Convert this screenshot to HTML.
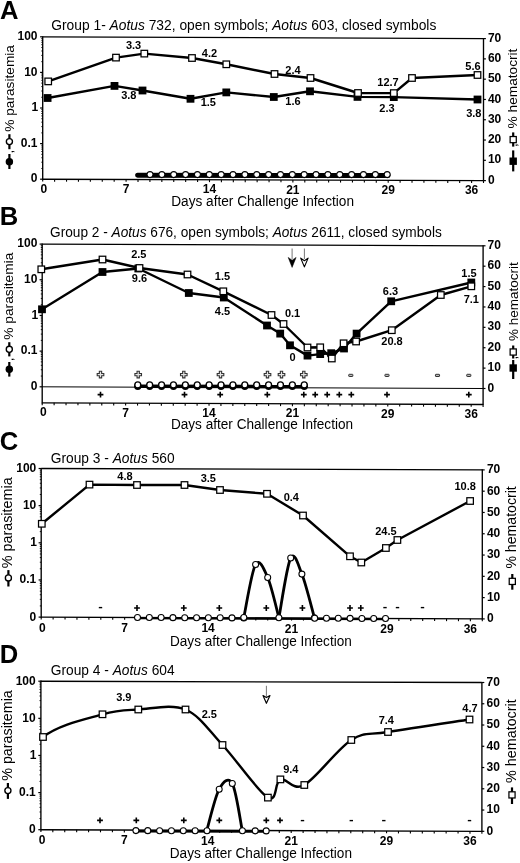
<!DOCTYPE html>
<html><head><meta charset="utf-8"><style>
html,body{margin:0;padding:0;background:#fff;}
body{width:520px;height:863px;overflow:hidden;}
svg{display:block;filter:blur(0.35px);font-family:"Liberation Sans", sans-serif;}
</style></head><body>
<svg width="520" height="863" viewBox="0 0 520 863">
<rect width="520" height="863" fill="#fff"/>
<text x="0" y="18.8" font-size="25.6" font-weight="700">A</text>
<text x="51.3" y="29.9" font-size="13.8" textLength="385" lengthAdjust="spacingAndGlyphs">Group 1- <tspan font-style="italic">Aotus</tspan> 732, open symbols; <tspan font-style="italic">Aotus</tspan> 603, closed symbols</text>
<line x1="42.7" y1="36.2" x2="42.7" y2="179.8" stroke="#000" stroke-width="1.35"/>
<line x1="42.7" y1="36.8" x2="483.5" y2="38.6" stroke="#000" stroke-width="1.35"/>
<line x1="483.5" y1="38" x2="483.5" y2="181.2" stroke="#000" stroke-width="1.35"/>
<line x1="42.7" y1="179.2" x2="483.5" y2="180.6" stroke="#000" stroke-width="1.35"/>
<line x1="42.7" y1="179.2" x2="42.7" y2="181.6" stroke="#000" stroke-width="1.1"/>
<line x1="54.61" y1="179.24" x2="54.61" y2="181.64" stroke="#000" stroke-width="1.1"/>
<line x1="66.53" y1="179.28" x2="66.53" y2="181.68" stroke="#000" stroke-width="1.1"/>
<line x1="78.44" y1="179.31" x2="78.44" y2="181.71" stroke="#000" stroke-width="1.1"/>
<line x1="90.35" y1="179.35" x2="90.35" y2="181.75" stroke="#000" stroke-width="1.1"/>
<line x1="102.27" y1="179.39" x2="102.27" y2="181.79" stroke="#000" stroke-width="1.1"/>
<line x1="114.18" y1="179.43" x2="114.18" y2="181.83" stroke="#000" stroke-width="1.1"/>
<line x1="126.09" y1="179.46" x2="126.09" y2="181.86" stroke="#000" stroke-width="1.1"/>
<line x1="138.01" y1="179.5" x2="138.01" y2="181.9" stroke="#000" stroke-width="1.1"/>
<line x1="149.92" y1="179.54" x2="149.92" y2="181.94" stroke="#000" stroke-width="1.1"/>
<line x1="161.84" y1="179.58" x2="161.84" y2="181.98" stroke="#000" stroke-width="1.1"/>
<line x1="173.75" y1="179.62" x2="173.75" y2="182.02" stroke="#000" stroke-width="1.1"/>
<line x1="185.66" y1="179.65" x2="185.66" y2="182.05" stroke="#000" stroke-width="1.1"/>
<line x1="197.58" y1="179.69" x2="197.58" y2="182.09" stroke="#000" stroke-width="1.1"/>
<line x1="209.49" y1="179.73" x2="209.49" y2="182.13" stroke="#000" stroke-width="1.1"/>
<line x1="221.4" y1="179.77" x2="221.4" y2="182.17" stroke="#000" stroke-width="1.1"/>
<line x1="233.32" y1="179.81" x2="233.32" y2="182.21" stroke="#000" stroke-width="1.1"/>
<line x1="245.23" y1="179.84" x2="245.23" y2="182.24" stroke="#000" stroke-width="1.1"/>
<line x1="257.14" y1="179.88" x2="257.14" y2="182.28" stroke="#000" stroke-width="1.1"/>
<line x1="269.06" y1="179.92" x2="269.06" y2="182.32" stroke="#000" stroke-width="1.1"/>
<line x1="280.97" y1="179.96" x2="280.97" y2="182.36" stroke="#000" stroke-width="1.1"/>
<line x1="292.88" y1="179.99" x2="292.88" y2="182.39" stroke="#000" stroke-width="1.1"/>
<line x1="304.8" y1="180.03" x2="304.8" y2="182.43" stroke="#000" stroke-width="1.1"/>
<line x1="316.71" y1="180.07" x2="316.71" y2="182.47" stroke="#000" stroke-width="1.1"/>
<line x1="328.62" y1="180.11" x2="328.62" y2="182.51" stroke="#000" stroke-width="1.1"/>
<line x1="340.54" y1="180.15" x2="340.54" y2="182.55" stroke="#000" stroke-width="1.1"/>
<line x1="352.45" y1="180.18" x2="352.45" y2="182.58" stroke="#000" stroke-width="1.1"/>
<line x1="364.36" y1="180.22" x2="364.36" y2="182.62" stroke="#000" stroke-width="1.1"/>
<line x1="376.28" y1="180.26" x2="376.28" y2="182.66" stroke="#000" stroke-width="1.1"/>
<line x1="388.19" y1="180.3" x2="388.19" y2="182.7" stroke="#000" stroke-width="1.1"/>
<line x1="400.11" y1="180.34" x2="400.11" y2="182.74" stroke="#000" stroke-width="1.1"/>
<line x1="412.02" y1="180.37" x2="412.02" y2="182.77" stroke="#000" stroke-width="1.1"/>
<line x1="423.93" y1="180.41" x2="423.93" y2="182.81" stroke="#000" stroke-width="1.1"/>
<line x1="435.85" y1="180.45" x2="435.85" y2="182.85" stroke="#000" stroke-width="1.1"/>
<line x1="447.76" y1="180.49" x2="447.76" y2="182.89" stroke="#000" stroke-width="1.1"/>
<line x1="459.67" y1="180.52" x2="459.67" y2="182.92" stroke="#000" stroke-width="1.1"/>
<line x1="471.59" y1="180.56" x2="471.59" y2="182.96" stroke="#000" stroke-width="1.1"/>
<line x1="483.5" y1="180.6" x2="483.5" y2="183" stroke="#000" stroke-width="1.1"/>
<line x1="40.1" y1="36.8" x2="42.7" y2="36.8" stroke="#000" stroke-width="1.2"/>
<line x1="41.3" y1="61.68" x2="42.7" y2="61.68" stroke="#000" stroke-width="0.9"/>
<line x1="41.3" y1="55.41" x2="42.7" y2="55.41" stroke="#000" stroke-width="0.9"/>
<line x1="41.3" y1="50.97" x2="42.7" y2="50.97" stroke="#000" stroke-width="0.9"/>
<line x1="41.3" y1="47.52" x2="42.7" y2="47.52" stroke="#000" stroke-width="0.9"/>
<line x1="41.3" y1="44.7" x2="42.7" y2="44.7" stroke="#000" stroke-width="0.9"/>
<line x1="41.3" y1="42.31" x2="42.7" y2="42.31" stroke="#000" stroke-width="0.9"/>
<line x1="41.3" y1="40.25" x2="42.7" y2="40.25" stroke="#000" stroke-width="0.9"/>
<line x1="41.3" y1="38.43" x2="42.7" y2="38.43" stroke="#000" stroke-width="0.9"/>
<line x1="40.1" y1="72.4" x2="42.7" y2="72.4" stroke="#000" stroke-width="1.2"/>
<line x1="41.3" y1="97.28" x2="42.7" y2="97.28" stroke="#000" stroke-width="0.9"/>
<line x1="41.3" y1="91.01" x2="42.7" y2="91.01" stroke="#000" stroke-width="0.9"/>
<line x1="41.3" y1="86.57" x2="42.7" y2="86.57" stroke="#000" stroke-width="0.9"/>
<line x1="41.3" y1="83.12" x2="42.7" y2="83.12" stroke="#000" stroke-width="0.9"/>
<line x1="41.3" y1="80.3" x2="42.7" y2="80.3" stroke="#000" stroke-width="0.9"/>
<line x1="41.3" y1="77.91" x2="42.7" y2="77.91" stroke="#000" stroke-width="0.9"/>
<line x1="41.3" y1="75.85" x2="42.7" y2="75.85" stroke="#000" stroke-width="0.9"/>
<line x1="41.3" y1="74.03" x2="42.7" y2="74.03" stroke="#000" stroke-width="0.9"/>
<line x1="40.1" y1="108" x2="42.7" y2="108" stroke="#000" stroke-width="1.2"/>
<line x1="41.3" y1="132.88" x2="42.7" y2="132.88" stroke="#000" stroke-width="0.9"/>
<line x1="41.3" y1="126.61" x2="42.7" y2="126.61" stroke="#000" stroke-width="0.9"/>
<line x1="41.3" y1="122.17" x2="42.7" y2="122.17" stroke="#000" stroke-width="0.9"/>
<line x1="41.3" y1="118.72" x2="42.7" y2="118.72" stroke="#000" stroke-width="0.9"/>
<line x1="41.3" y1="115.9" x2="42.7" y2="115.9" stroke="#000" stroke-width="0.9"/>
<line x1="41.3" y1="113.51" x2="42.7" y2="113.51" stroke="#000" stroke-width="0.9"/>
<line x1="41.3" y1="111.45" x2="42.7" y2="111.45" stroke="#000" stroke-width="0.9"/>
<line x1="41.3" y1="109.63" x2="42.7" y2="109.63" stroke="#000" stroke-width="0.9"/>
<line x1="40.1" y1="143.6" x2="42.7" y2="143.6" stroke="#000" stroke-width="1.2"/>
<line x1="41.3" y1="168.48" x2="42.7" y2="168.48" stroke="#000" stroke-width="0.9"/>
<line x1="41.3" y1="162.21" x2="42.7" y2="162.21" stroke="#000" stroke-width="0.9"/>
<line x1="41.3" y1="157.77" x2="42.7" y2="157.77" stroke="#000" stroke-width="0.9"/>
<line x1="41.3" y1="154.32" x2="42.7" y2="154.32" stroke="#000" stroke-width="0.9"/>
<line x1="41.3" y1="151.5" x2="42.7" y2="151.5" stroke="#000" stroke-width="0.9"/>
<line x1="41.3" y1="149.11" x2="42.7" y2="149.11" stroke="#000" stroke-width="0.9"/>
<line x1="41.3" y1="147.05" x2="42.7" y2="147.05" stroke="#000" stroke-width="0.9"/>
<line x1="41.3" y1="145.23" x2="42.7" y2="145.23" stroke="#000" stroke-width="0.9"/>
<line x1="40.1" y1="179.2" x2="42.7" y2="179.2" stroke="#000" stroke-width="1.2"/>
<line x1="483.5" y1="180.6" x2="485.9" y2="180.6" stroke="#000" stroke-width="1.2"/>
<line x1="483.5" y1="160.31" x2="485.9" y2="160.31" stroke="#000" stroke-width="1.2"/>
<line x1="483.5" y1="140.03" x2="485.9" y2="140.03" stroke="#000" stroke-width="1.2"/>
<line x1="483.5" y1="119.74" x2="485.9" y2="119.74" stroke="#000" stroke-width="1.2"/>
<line x1="483.5" y1="99.46" x2="485.9" y2="99.46" stroke="#000" stroke-width="1.2"/>
<line x1="483.5" y1="79.17" x2="485.9" y2="79.17" stroke="#000" stroke-width="1.2"/>
<line x1="483.5" y1="58.89" x2="485.9" y2="58.89" stroke="#000" stroke-width="1.2"/>
<line x1="483.5" y1="38.6" x2="485.9" y2="38.6" stroke="#000" stroke-width="1.2"/>
<text x="37.5" y="39.92" font-size="12" font-weight="700" text-anchor="end">100</text>
<text x="37.5" y="75.52" font-size="12" font-weight="700" text-anchor="end">10</text>
<text x="38.2" y="111.12" font-size="12" font-weight="700" text-anchor="end">1</text>
<text x="37.5" y="146.72" font-size="12" font-weight="700" text-anchor="end">0.1</text>
<text x="37.5" y="182.32" font-size="12" font-weight="700" text-anchor="end">0</text>
<text x="487.9" y="183.72" font-size="12" font-weight="700">0</text>
<text x="487.9" y="163.43" font-size="12" font-weight="700">10</text>
<text x="487.9" y="143.15" font-size="12" font-weight="700">20</text>
<text x="487.9" y="122.86" font-size="12" font-weight="700">30</text>
<text x="487.9" y="102.58" font-size="12" font-weight="700">40</text>
<text x="487.9" y="82.29" font-size="12" font-weight="700">50</text>
<text x="487.9" y="62.01" font-size="12" font-weight="700">60</text>
<text x="487.9" y="41.72" font-size="12" font-weight="700">70</text>
<text x="43.9" y="192.92" font-size="12" font-weight="700" text-anchor="middle">0</text>
<text x="126.09" y="193.18" font-size="12" font-weight="700" text-anchor="middle">7</text>
<text x="209.49" y="193.45" font-size="12" font-weight="700" text-anchor="middle">14</text>
<text x="292.88" y="193.71" font-size="12" font-weight="700" text-anchor="middle">21</text>
<text x="388.19" y="194.02" font-size="12" font-weight="700" text-anchor="middle">29</text>
<text x="471.59" y="194.28" font-size="12" font-weight="700" text-anchor="middle">36</text>
<text x="171.2" y="205.8" font-size="14" textLength="182.8" lengthAdjust="spacingAndGlyphs">Days after Challenge Infection</text>
<text x="170.9" y="429.3" font-size="14" textLength="182.2" lengthAdjust="spacingAndGlyphs">Days after Challenge Infection</text>
<text transform="translate(13.5 131.8) rotate(-90)" font-size="13.5" textLength="86.8" lengthAdjust="spacingAndGlyphs">% parasitemia</text>
<line x1="9.4" y1="134.2" x2="9.4" y2="149.2" stroke="#000" stroke-width="2.2"/>
<circle cx="9.4" cy="141.6" r="3.05" fill="#fff" stroke="#000" stroke-width="1.35"/>
<text transform="translate(13.4 153.4) rotate(-90)" font-size="13.5">,</text>
<line x1="9.4" y1="154" x2="9.4" y2="169" stroke="#000" stroke-width="2.2"/>
<circle cx="9.4" cy="161.8" r="3.72" fill="#000"/>
<text transform="translate(517.4 128.4) rotate(-90)" font-size="13.5" textLength="79.8" lengthAdjust="spacingAndGlyphs">% hematocrit</text>
<line x1="513.2" y1="132.4" x2="513.2" y2="146.6" stroke="#000" stroke-width="2.2"/>
<rect x="510.13" y="136.53" width="6.15" height="6.15" fill="#fff" stroke="#000" stroke-width="1.25"/>
<text transform="translate(517.2 147) rotate(-90)" font-size="13.5">,</text>
<line x1="513.2" y1="150.4" x2="513.2" y2="171.4" stroke="#000" stroke-width="2.2"/>
<rect x="509.5" y="157.5" width="7.4" height="7.4" fill="#000"/>
<polyline points="47.6,98 114.5,85.9 142.5,90.5 190.5,98.8 226.3,92.4 273.8,97 310,91.3 357.5,96.9 393.8,97.1 477.5,99.5" fill="none" stroke="#000" stroke-width="2.4" stroke-linejoin="round"/>
<polyline points="48.2,81.4 116,57.6 144.3,53.6 192,58 226.3,64.3 274.5,74 310.5,78 358,93 393.8,93.1 412,78 477.5,75" fill="none" stroke="#000" stroke-width="2.4" stroke-linejoin="round"/>
<rect x="43.7" y="94.1" width="7.8" height="7.8" fill="#000"/>
<rect x="110.6" y="82" width="7.8" height="7.8" fill="#000"/>
<rect x="138.6" y="86.6" width="7.8" height="7.8" fill="#000"/>
<rect x="186.6" y="94.9" width="7.8" height="7.8" fill="#000"/>
<rect x="222.4" y="88.5" width="7.8" height="7.8" fill="#000"/>
<rect x="269.9" y="93.1" width="7.8" height="7.8" fill="#000"/>
<rect x="306.1" y="87.4" width="7.8" height="7.8" fill="#000"/>
<rect x="353.6" y="93" width="7.8" height="7.8" fill="#000"/>
<rect x="389.9" y="93.2" width="7.8" height="7.8" fill="#000"/>
<rect x="473.6" y="95.6" width="7.8" height="7.8" fill="#000"/>
<rect x="44.93" y="78.12" width="6.55" height="6.55" fill="#fff" stroke="#000" stroke-width="1.25"/>
<rect x="112.72" y="54.33" width="6.55" height="6.55" fill="#fff" stroke="#000" stroke-width="1.25"/>
<rect x="141.03" y="50.33" width="6.55" height="6.55" fill="#fff" stroke="#000" stroke-width="1.25"/>
<rect x="188.72" y="54.73" width="6.55" height="6.55" fill="#fff" stroke="#000" stroke-width="1.25"/>
<rect x="223.03" y="61.02" width="6.55" height="6.55" fill="#fff" stroke="#000" stroke-width="1.25"/>
<rect x="271.23" y="70.72" width="6.55" height="6.55" fill="#fff" stroke="#000" stroke-width="1.25"/>
<rect x="307.23" y="74.72" width="6.55" height="6.55" fill="#fff" stroke="#000" stroke-width="1.25"/>
<rect x="354.73" y="89.72" width="6.55" height="6.55" fill="#fff" stroke="#000" stroke-width="1.25"/>
<rect x="390.53" y="89.82" width="6.55" height="6.55" fill="#fff" stroke="#000" stroke-width="1.25"/>
<rect x="408.73" y="74.72" width="6.55" height="6.55" fill="#fff" stroke="#000" stroke-width="1.25"/>
<rect x="474.23" y="71.72" width="6.55" height="6.55" fill="#fff" stroke="#000" stroke-width="1.25"/>
<text x="133.6" y="49.2" font-size="11" font-weight="700" text-anchor="middle">3.3</text>
<text x="209.5" y="57.3" font-size="11" font-weight="700" text-anchor="middle">4.2</text>
<text x="293" y="73.6" font-size="11" font-weight="700" text-anchor="middle">2.4</text>
<text x="388" y="86.4" font-size="11" font-weight="700" text-anchor="middle">12.7</text>
<text x="473" y="69.8" font-size="11" font-weight="700" text-anchor="middle">5.6</text>
<text x="128.8" y="99.4" font-size="11" font-weight="700" text-anchor="middle">3.8</text>
<text x="208.3" y="106.1" font-size="11" font-weight="700" text-anchor="middle">1.5</text>
<text x="293" y="105.4" font-size="11" font-weight="700" text-anchor="middle">1.6</text>
<text x="387" y="112" font-size="11" font-weight="700" text-anchor="middle">2.3</text>
<text x="473.8" y="117.4" font-size="11" font-weight="700" text-anchor="middle">3.8</text>
<line x1="137.6" y1="175.3" x2="388" y2="175.6" stroke="#000" stroke-width="5" stroke-linecap="round"/>
<circle cx="150" cy="174.6" r="3" fill="#fff" stroke="#000" stroke-width="1.05"/>
<circle cx="161.86" cy="174.6" r="3" fill="#fff" stroke="#000" stroke-width="1.05"/>
<circle cx="173.72" cy="174.6" r="3" fill="#fff" stroke="#000" stroke-width="1.05"/>
<circle cx="185.58" cy="174.6" r="3" fill="#fff" stroke="#000" stroke-width="1.05"/>
<circle cx="197.44" cy="174.6" r="3" fill="#fff" stroke="#000" stroke-width="1.05"/>
<circle cx="209.3" cy="174.6" r="3" fill="#fff" stroke="#000" stroke-width="1.05"/>
<circle cx="221.16" cy="174.6" r="3" fill="#fff" stroke="#000" stroke-width="1.05"/>
<circle cx="233.02" cy="174.6" r="3" fill="#fff" stroke="#000" stroke-width="1.05"/>
<circle cx="244.88" cy="174.6" r="3" fill="#fff" stroke="#000" stroke-width="1.05"/>
<circle cx="256.74" cy="174.6" r="3" fill="#fff" stroke="#000" stroke-width="1.05"/>
<circle cx="268.6" cy="174.6" r="3" fill="#fff" stroke="#000" stroke-width="1.05"/>
<circle cx="280.46" cy="174.6" r="3" fill="#fff" stroke="#000" stroke-width="1.05"/>
<circle cx="292.32" cy="174.6" r="3" fill="#fff" stroke="#000" stroke-width="1.05"/>
<circle cx="304.18" cy="174.6" r="3" fill="#fff" stroke="#000" stroke-width="1.05"/>
<circle cx="316.04" cy="174.6" r="3" fill="#fff" stroke="#000" stroke-width="1.05"/>
<circle cx="327.9" cy="174.6" r="3" fill="#fff" stroke="#000" stroke-width="1.05"/>
<circle cx="339.76" cy="174.6" r="3" fill="#fff" stroke="#000" stroke-width="1.05"/>
<circle cx="351.62" cy="174.6" r="3" fill="#fff" stroke="#000" stroke-width="1.05"/>
<circle cx="363.48" cy="174.6" r="3" fill="#fff" stroke="#000" stroke-width="1.05"/>
<circle cx="375.34" cy="174.6" r="3" fill="#fff" stroke="#000" stroke-width="1.05"/>
<circle cx="387.2" cy="174.6" r="3" fill="#fff" stroke="#000" stroke-width="1.05"/>
<text x="-0.2" y="225.3" font-size="25.6" font-weight="700">B</text>
<text x="50" y="236.8" font-size="13.8" textLength="391.8" lengthAdjust="spacingAndGlyphs">Group 2 - <tspan font-style="italic">Aotus</tspan> 676, open symbols; <tspan font-style="italic">Aotus</tspan> 2611, closed symbols</text>
<line x1="42.2" y1="243.5" x2="42.2" y2="403.4" stroke="#000" stroke-width="1.35"/>
<line x1="42.2" y1="244.1" x2="483.1" y2="245.8" stroke="#000" stroke-width="1.35"/>
<line x1="483.1" y1="245.2" x2="483.1" y2="405.1" stroke="#000" stroke-width="1.35"/>
<line x1="42.2" y1="402.8" x2="483.1" y2="404.5" stroke="#000" stroke-width="1.35"/>
<line x1="42.2" y1="386.8" x2="483.1" y2="388.5" stroke="#000" stroke-width="1"/>
<line x1="42.2" y1="402.8" x2="42.2" y2="405.2" stroke="#000" stroke-width="1.1"/>
<line x1="54.12" y1="402.85" x2="54.12" y2="405.25" stroke="#000" stroke-width="1.1"/>
<line x1="66.03" y1="402.89" x2="66.03" y2="405.29" stroke="#000" stroke-width="1.1"/>
<line x1="77.95" y1="402.94" x2="77.95" y2="405.34" stroke="#000" stroke-width="1.1"/>
<line x1="89.86" y1="402.98" x2="89.86" y2="405.38" stroke="#000" stroke-width="1.1"/>
<line x1="101.78" y1="403.03" x2="101.78" y2="405.43" stroke="#000" stroke-width="1.1"/>
<line x1="113.7" y1="403.08" x2="113.7" y2="405.48" stroke="#000" stroke-width="1.1"/>
<line x1="125.61" y1="403.12" x2="125.61" y2="405.52" stroke="#000" stroke-width="1.1"/>
<line x1="137.53" y1="403.17" x2="137.53" y2="405.57" stroke="#000" stroke-width="1.1"/>
<line x1="149.45" y1="403.21" x2="149.45" y2="405.61" stroke="#000" stroke-width="1.1"/>
<line x1="161.36" y1="403.26" x2="161.36" y2="405.66" stroke="#000" stroke-width="1.1"/>
<line x1="173.28" y1="403.31" x2="173.28" y2="405.71" stroke="#000" stroke-width="1.1"/>
<line x1="185.19" y1="403.35" x2="185.19" y2="405.75" stroke="#000" stroke-width="1.1"/>
<line x1="197.11" y1="403.4" x2="197.11" y2="405.8" stroke="#000" stroke-width="1.1"/>
<line x1="209.03" y1="403.44" x2="209.03" y2="405.84" stroke="#000" stroke-width="1.1"/>
<line x1="220.94" y1="403.49" x2="220.94" y2="405.89" stroke="#000" stroke-width="1.1"/>
<line x1="232.86" y1="403.54" x2="232.86" y2="405.94" stroke="#000" stroke-width="1.1"/>
<line x1="244.78" y1="403.58" x2="244.78" y2="405.98" stroke="#000" stroke-width="1.1"/>
<line x1="256.69" y1="403.63" x2="256.69" y2="406.03" stroke="#000" stroke-width="1.1"/>
<line x1="268.61" y1="403.67" x2="268.61" y2="406.07" stroke="#000" stroke-width="1.1"/>
<line x1="280.52" y1="403.72" x2="280.52" y2="406.12" stroke="#000" stroke-width="1.1"/>
<line x1="292.44" y1="403.76" x2="292.44" y2="406.16" stroke="#000" stroke-width="1.1"/>
<line x1="304.36" y1="403.81" x2="304.36" y2="406.21" stroke="#000" stroke-width="1.1"/>
<line x1="316.27" y1="403.86" x2="316.27" y2="406.26" stroke="#000" stroke-width="1.1"/>
<line x1="328.19" y1="403.9" x2="328.19" y2="406.3" stroke="#000" stroke-width="1.1"/>
<line x1="340.11" y1="403.95" x2="340.11" y2="406.35" stroke="#000" stroke-width="1.1"/>
<line x1="352.02" y1="403.99" x2="352.02" y2="406.39" stroke="#000" stroke-width="1.1"/>
<line x1="363.94" y1="404.04" x2="363.94" y2="406.44" stroke="#000" stroke-width="1.1"/>
<line x1="375.85" y1="404.09" x2="375.85" y2="406.49" stroke="#000" stroke-width="1.1"/>
<line x1="387.77" y1="404.13" x2="387.77" y2="406.53" stroke="#000" stroke-width="1.1"/>
<line x1="399.69" y1="404.18" x2="399.69" y2="406.58" stroke="#000" stroke-width="1.1"/>
<line x1="411.6" y1="404.22" x2="411.6" y2="406.62" stroke="#000" stroke-width="1.1"/>
<line x1="423.52" y1="404.27" x2="423.52" y2="406.67" stroke="#000" stroke-width="1.1"/>
<line x1="435.44" y1="404.32" x2="435.44" y2="406.72" stroke="#000" stroke-width="1.1"/>
<line x1="447.35" y1="404.36" x2="447.35" y2="406.76" stroke="#000" stroke-width="1.1"/>
<line x1="459.27" y1="404.41" x2="459.27" y2="406.81" stroke="#000" stroke-width="1.1"/>
<line x1="471.18" y1="404.45" x2="471.18" y2="406.85" stroke="#000" stroke-width="1.1"/>
<line x1="483.1" y1="404.5" x2="483.1" y2="406.9" stroke="#000" stroke-width="1.1"/>
<line x1="39.6" y1="244.1" x2="42.2" y2="244.1" stroke="#000" stroke-width="1.2"/>
<line x1="40.8" y1="269.04" x2="42.2" y2="269.04" stroke="#000" stroke-width="0.9"/>
<line x1="40.8" y1="262.75" x2="42.2" y2="262.75" stroke="#000" stroke-width="0.9"/>
<line x1="40.8" y1="258.3" x2="42.2" y2="258.3" stroke="#000" stroke-width="0.9"/>
<line x1="40.8" y1="254.84" x2="42.2" y2="254.84" stroke="#000" stroke-width="0.9"/>
<line x1="40.8" y1="252.01" x2="42.2" y2="252.01" stroke="#000" stroke-width="0.9"/>
<line x1="40.8" y1="249.63" x2="42.2" y2="249.63" stroke="#000" stroke-width="0.9"/>
<line x1="40.8" y1="247.56" x2="42.2" y2="247.56" stroke="#000" stroke-width="0.9"/>
<line x1="40.8" y1="245.73" x2="42.2" y2="245.73" stroke="#000" stroke-width="0.9"/>
<line x1="39.6" y1="279.77" x2="42.2" y2="279.77" stroke="#000" stroke-width="1.2"/>
<line x1="40.8" y1="304.71" x2="42.2" y2="304.71" stroke="#000" stroke-width="0.9"/>
<line x1="40.8" y1="298.43" x2="42.2" y2="298.43" stroke="#000" stroke-width="0.9"/>
<line x1="40.8" y1="293.97" x2="42.2" y2="293.97" stroke="#000" stroke-width="0.9"/>
<line x1="40.8" y1="290.51" x2="42.2" y2="290.51" stroke="#000" stroke-width="0.9"/>
<line x1="40.8" y1="287.69" x2="42.2" y2="287.69" stroke="#000" stroke-width="0.9"/>
<line x1="40.8" y1="285.3" x2="42.2" y2="285.3" stroke="#000" stroke-width="0.9"/>
<line x1="40.8" y1="283.23" x2="42.2" y2="283.23" stroke="#000" stroke-width="0.9"/>
<line x1="40.8" y1="281.41" x2="42.2" y2="281.41" stroke="#000" stroke-width="0.9"/>
<line x1="39.6" y1="315.45" x2="42.2" y2="315.45" stroke="#000" stroke-width="1.2"/>
<line x1="40.8" y1="340.39" x2="42.2" y2="340.39" stroke="#000" stroke-width="0.9"/>
<line x1="40.8" y1="334.1" x2="42.2" y2="334.1" stroke="#000" stroke-width="0.9"/>
<line x1="40.8" y1="329.65" x2="42.2" y2="329.65" stroke="#000" stroke-width="0.9"/>
<line x1="40.8" y1="326.19" x2="42.2" y2="326.19" stroke="#000" stroke-width="0.9"/>
<line x1="40.8" y1="323.36" x2="42.2" y2="323.36" stroke="#000" stroke-width="0.9"/>
<line x1="40.8" y1="320.98" x2="42.2" y2="320.98" stroke="#000" stroke-width="0.9"/>
<line x1="40.8" y1="318.91" x2="42.2" y2="318.91" stroke="#000" stroke-width="0.9"/>
<line x1="40.8" y1="317.08" x2="42.2" y2="317.08" stroke="#000" stroke-width="0.9"/>
<line x1="39.6" y1="351.12" x2="42.2" y2="351.12" stroke="#000" stroke-width="1.2"/>
<line x1="40.8" y1="376.06" x2="42.2" y2="376.06" stroke="#000" stroke-width="0.9"/>
<line x1="40.8" y1="369.78" x2="42.2" y2="369.78" stroke="#000" stroke-width="0.9"/>
<line x1="40.8" y1="365.32" x2="42.2" y2="365.32" stroke="#000" stroke-width="0.9"/>
<line x1="40.8" y1="361.86" x2="42.2" y2="361.86" stroke="#000" stroke-width="0.9"/>
<line x1="40.8" y1="359.04" x2="42.2" y2="359.04" stroke="#000" stroke-width="0.9"/>
<line x1="40.8" y1="356.65" x2="42.2" y2="356.65" stroke="#000" stroke-width="0.9"/>
<line x1="40.8" y1="354.58" x2="42.2" y2="354.58" stroke="#000" stroke-width="0.9"/>
<line x1="40.8" y1="352.76" x2="42.2" y2="352.76" stroke="#000" stroke-width="0.9"/>
<line x1="39.6" y1="386.8" x2="42.2" y2="386.8" stroke="#000" stroke-width="1.2"/>
<line x1="483.1" y1="388.5" x2="485.5" y2="388.5" stroke="#000" stroke-width="1.2"/>
<line x1="483.1" y1="368.11" x2="485.5" y2="368.11" stroke="#000" stroke-width="1.2"/>
<line x1="483.1" y1="347.73" x2="485.5" y2="347.73" stroke="#000" stroke-width="1.2"/>
<line x1="483.1" y1="327.34" x2="485.5" y2="327.34" stroke="#000" stroke-width="1.2"/>
<line x1="483.1" y1="306.96" x2="485.5" y2="306.96" stroke="#000" stroke-width="1.2"/>
<line x1="483.1" y1="286.57" x2="485.5" y2="286.57" stroke="#000" stroke-width="1.2"/>
<line x1="483.1" y1="266.19" x2="485.5" y2="266.19" stroke="#000" stroke-width="1.2"/>
<line x1="483.1" y1="245.8" x2="485.5" y2="245.8" stroke="#000" stroke-width="1.2"/>
<text x="37.4" y="247.22" font-size="12" font-weight="700" text-anchor="end">100</text>
<text x="37.4" y="282.89" font-size="12" font-weight="700" text-anchor="end">10</text>
<text x="38.1" y="318.57" font-size="12" font-weight="700" text-anchor="end">1</text>
<text x="37.4" y="354.25" font-size="12" font-weight="700" text-anchor="end">0.1</text>
<text x="37.4" y="389.92" font-size="12" font-weight="700" text-anchor="end">0</text>
<text x="487.6" y="391.62" font-size="12" font-weight="700">0</text>
<text x="487.6" y="371.23" font-size="12" font-weight="700">10</text>
<text x="487.6" y="350.85" font-size="12" font-weight="700">20</text>
<text x="487.6" y="330.46" font-size="12" font-weight="700">30</text>
<text x="487.6" y="310.08" font-size="12" font-weight="700">40</text>
<text x="487.6" y="289.69" font-size="12" font-weight="700">50</text>
<text x="487.6" y="269.31" font-size="12" font-weight="700">60</text>
<text x="487.6" y="248.92" font-size="12" font-weight="700">70</text>
<text x="43.4" y="416.32" font-size="12" font-weight="700" text-anchor="middle">0</text>
<text x="125.61" y="416.64" font-size="12" font-weight="700" text-anchor="middle">7</text>
<text x="209.03" y="416.96" font-size="12" font-weight="700" text-anchor="middle">14</text>
<text x="292.44" y="417.28" font-size="12" font-weight="700" text-anchor="middle">21</text>
<text x="387.77" y="417.65" font-size="12" font-weight="700" text-anchor="middle">29</text>
<text x="471.18" y="417.97" font-size="12" font-weight="700" text-anchor="middle">36</text>
<text transform="translate(13.2 339.7) rotate(-90)" font-size="13.5" textLength="87" lengthAdjust="spacingAndGlyphs">% parasitemia</text>
<line x1="9.3" y1="342.2" x2="9.3" y2="356.4" stroke="#000" stroke-width="2.2"/>
<circle cx="9.3" cy="349.3" r="3.05" fill="#fff" stroke="#000" stroke-width="1.35"/>
<text transform="translate(13.2 361.2) rotate(-90)" font-size="13.5">,</text>
<line x1="9.3" y1="362" x2="9.3" y2="376.6" stroke="#000" stroke-width="2.2"/>
<circle cx="9.3" cy="369.3" r="3.72" fill="#000"/>
<text transform="translate(518 341) rotate(-90)" font-size="13.5" textLength="78.8" lengthAdjust="spacingAndGlyphs">% hematocrit</text>
<line x1="513.2" y1="345.5" x2="513.2" y2="358.5" stroke="#000" stroke-width="2.2"/>
<rect x="510.13" y="348.93" width="6.15" height="6.15" fill="#fff" stroke="#000" stroke-width="1.25"/>
<text transform="translate(516.8 359.6) rotate(-90)" font-size="13.5">,</text>
<line x1="513.2" y1="360" x2="513.2" y2="379" stroke="#000" stroke-width="2.2"/>
<rect x="509.5" y="364.3" width="7.4" height="7.4" fill="#000"/>
<polyline points="42,309.3 102.5,272 138.3,268.5 188.8,293 223.8,297.5 267,325.5 280.2,333.6 290,345.3 307.5,355.6 320.2,354.1 331.2,353.2 344,348.5 356.6,333.6 391.2,301.3 471.3,282.5" fill="none" stroke="#000" stroke-width="2.4" stroke-linejoin="round"/>
<polyline points="41.3,269.3 102.5,259.5 139.5,268 187.5,274.5 223.3,291.3 271.5,315 283.5,324 307.5,347.5 320.2,347.3 331.8,358.5 343.6,343.3 356.1,341.5 391.8,330.2 440.8,295 471.3,286.3" fill="none" stroke="#000" stroke-width="2.4" stroke-linejoin="round"/>
<rect x="38.1" y="305.4" width="7.8" height="7.8" fill="#000"/>
<rect x="98.6" y="268.1" width="7.8" height="7.8" fill="#000"/>
<rect x="134.4" y="264.6" width="7.8" height="7.8" fill="#000"/>
<rect x="184.9" y="289.1" width="7.8" height="7.8" fill="#000"/>
<rect x="219.9" y="293.6" width="7.8" height="7.8" fill="#000"/>
<rect x="263.1" y="321.6" width="7.8" height="7.8" fill="#000"/>
<rect x="276.3" y="329.7" width="7.8" height="7.8" fill="#000"/>
<rect x="286.1" y="341.4" width="7.8" height="7.8" fill="#000"/>
<rect x="303.6" y="351.7" width="7.8" height="7.8" fill="#000"/>
<rect x="316.3" y="350.2" width="7.8" height="7.8" fill="#000"/>
<rect x="327.3" y="349.3" width="7.8" height="7.8" fill="#000"/>
<rect x="340.1" y="344.6" width="7.8" height="7.8" fill="#000"/>
<rect x="352.7" y="329.7" width="7.8" height="7.8" fill="#000"/>
<rect x="387.3" y="297.4" width="7.8" height="7.8" fill="#000"/>
<rect x="467.4" y="278.6" width="7.8" height="7.8" fill="#000"/>
<rect x="38.02" y="266.03" width="6.55" height="6.55" fill="#fff" stroke="#000" stroke-width="1.25"/>
<rect x="99.22" y="256.23" width="6.55" height="6.55" fill="#fff" stroke="#000" stroke-width="1.25"/>
<rect x="136.22" y="264.73" width="6.55" height="6.55" fill="#fff" stroke="#000" stroke-width="1.25"/>
<rect x="184.22" y="271.23" width="6.55" height="6.55" fill="#fff" stroke="#000" stroke-width="1.25"/>
<rect x="220.03" y="288.03" width="6.55" height="6.55" fill="#fff" stroke="#000" stroke-width="1.25"/>
<rect x="268.23" y="311.73" width="6.55" height="6.55" fill="#fff" stroke="#000" stroke-width="1.25"/>
<rect x="280.23" y="320.73" width="6.55" height="6.55" fill="#fff" stroke="#000" stroke-width="1.25"/>
<rect x="304.23" y="344.23" width="6.55" height="6.55" fill="#fff" stroke="#000" stroke-width="1.25"/>
<rect x="316.93" y="344.03" width="6.55" height="6.55" fill="#fff" stroke="#000" stroke-width="1.25"/>
<rect x="328.53" y="355.23" width="6.55" height="6.55" fill="#fff" stroke="#000" stroke-width="1.25"/>
<rect x="340.33" y="340.03" width="6.55" height="6.55" fill="#fff" stroke="#000" stroke-width="1.25"/>
<rect x="352.83" y="338.23" width="6.55" height="6.55" fill="#fff" stroke="#000" stroke-width="1.25"/>
<rect x="388.53" y="326.93" width="6.55" height="6.55" fill="#fff" stroke="#000" stroke-width="1.25"/>
<rect x="437.53" y="291.73" width="6.55" height="6.55" fill="#fff" stroke="#000" stroke-width="1.25"/>
<rect x="468.03" y="283.03" width="6.55" height="6.55" fill="#fff" stroke="#000" stroke-width="1.25"/>
<text x="138.8" y="257.8" font-size="11" font-weight="700" text-anchor="middle">2.5</text>
<text x="139.5" y="282.3" font-size="11" font-weight="700" text-anchor="middle">9.6</text>
<text x="222.5" y="280.3" font-size="11" font-weight="700" text-anchor="middle">1.5</text>
<text x="222.5" y="315.3" font-size="11" font-weight="700" text-anchor="middle">4.5</text>
<text x="292.6" y="317" font-size="11" font-weight="700" text-anchor="middle">0.1</text>
<text x="292.5" y="360.9" font-size="11" font-weight="700" text-anchor="middle">0</text>
<text x="390.5" y="294.5" font-size="11" font-weight="700" text-anchor="middle">6.3</text>
<text x="392" y="345.3" font-size="11" font-weight="700" text-anchor="middle">20.8</text>
<text x="469" y="276.6" font-size="11" font-weight="700" text-anchor="middle">1.5</text>
<text x="471.3" y="302.5" font-size="11" font-weight="700" text-anchor="middle">7.1</text>
<line x1="292.1" y1="248.5" x2="292.1" y2="259" stroke="#666" stroke-width="0.9"/>
<path d="M288.2,257.4 L292.1,260.2 L296.1,257.4 L292.1,267.4 Z" fill="#000" stroke="#000" stroke-width="0.5" stroke-linejoin="round"/>
<line x1="304.4" y1="248.5" x2="304.4" y2="259" stroke="#666" stroke-width="0.9"/>
<path d="M300.7,258.1 L304.4,260.7 L308.1,258.1 L304.4,266.9 Z" fill="#fff" stroke="#000" stroke-width="1.15" stroke-linejoin="round"/>
<line x1="137.8" y1="386.3" x2="304.3" y2="386.6" stroke="#000" stroke-width="3.6"/>
<circle cx="137.8" cy="386.3" r="3.7" fill="#000"/>
<circle cx="149.69" cy="386.3" r="3.7" fill="#000"/>
<circle cx="161.58" cy="386.3" r="3.7" fill="#000"/>
<circle cx="173.47" cy="386.3" r="3.7" fill="#000"/>
<circle cx="185.36" cy="386.3" r="3.7" fill="#000"/>
<circle cx="197.25" cy="386.3" r="3.7" fill="#000"/>
<circle cx="209.14" cy="386.3" r="3.7" fill="#000"/>
<circle cx="221.03" cy="386.3" r="3.7" fill="#000"/>
<circle cx="232.92" cy="386.3" r="3.7" fill="#000"/>
<circle cx="244.81" cy="386.3" r="3.7" fill="#000"/>
<circle cx="256.7" cy="386.3" r="3.7" fill="#000"/>
<circle cx="268.59" cy="386.3" r="3.7" fill="#000"/>
<circle cx="280.48" cy="386.3" r="3.7" fill="#000"/>
<circle cx="292.37" cy="386.3" r="3.7" fill="#000"/>
<circle cx="304.26" cy="386.3" r="3.7" fill="#000"/>
<circle cx="137.8" cy="384.9" r="2.95" fill="#fff" stroke="#000" stroke-width="1.3"/>
<circle cx="149.69" cy="384.9" r="2.95" fill="#fff" stroke="#000" stroke-width="1.3"/>
<circle cx="161.58" cy="384.9" r="2.95" fill="#fff" stroke="#000" stroke-width="1.3"/>
<circle cx="173.47" cy="384.9" r="2.95" fill="#fff" stroke="#000" stroke-width="1.3"/>
<circle cx="185.36" cy="384.9" r="2.95" fill="#fff" stroke="#000" stroke-width="1.3"/>
<circle cx="197.25" cy="384.9" r="2.95" fill="#fff" stroke="#000" stroke-width="1.3"/>
<circle cx="209.14" cy="384.9" r="2.95" fill="#fff" stroke="#000" stroke-width="1.3"/>
<circle cx="221.03" cy="384.9" r="2.95" fill="#fff" stroke="#000" stroke-width="1.3"/>
<circle cx="232.92" cy="384.9" r="2.95" fill="#fff" stroke="#000" stroke-width="1.3"/>
<circle cx="244.81" cy="384.9" r="2.95" fill="#fff" stroke="#000" stroke-width="1.3"/>
<circle cx="256.7" cy="384.9" r="2.95" fill="#fff" stroke="#000" stroke-width="1.3"/>
<circle cx="268.59" cy="384.9" r="2.95" fill="#fff" stroke="#000" stroke-width="1.3"/>
<circle cx="280.48" cy="384.9" r="2.95" fill="#fff" stroke="#000" stroke-width="1.3"/>
<circle cx="292.37" cy="384.9" r="2.95" fill="#fff" stroke="#000" stroke-width="1.3"/>
<circle cx="304.26" cy="384.9" r="2.95" fill="#fff" stroke="#000" stroke-width="1.3"/>
<path d="M99.35,371.3 L101.65,371.3 L101.65,373.45 L103.8,373.45 L103.8,375.75 L101.65,375.75 L101.65,377.9 L99.35,377.9 L99.35,375.75 L97.2,375.75 L97.2,373.45 L99.35,373.45Z" fill="#e4e4e4" stroke="#333" stroke-width="1.1"/>
<path d="M137.05,371.3 L139.35,371.3 L139.35,373.45 L141.5,373.45 L141.5,375.75 L139.35,375.75 L139.35,377.9 L137.05,377.9 L137.05,375.75 L134.9,375.75 L134.9,373.45 L137.05,373.45Z" fill="#e4e4e4" stroke="#333" stroke-width="1.1"/>
<path d="M182.65,371.3 L184.95,371.3 L184.95,373.45 L187.1,373.45 L187.1,375.75 L184.95,375.75 L184.95,377.9 L182.65,377.9 L182.65,375.75 L180.5,375.75 L180.5,373.45 L182.65,373.45Z" fill="#e4e4e4" stroke="#333" stroke-width="1.1"/>
<path d="M219.35,371.3 L221.65,371.3 L221.65,373.45 L223.8,373.45 L223.8,375.75 L221.65,375.75 L221.65,377.9 L219.35,377.9 L219.35,375.75 L217.2,375.75 L217.2,373.45 L219.35,373.45Z" fill="#e4e4e4" stroke="#333" stroke-width="1.1"/>
<path d="M266.35,371.3 L268.65,371.3 L268.65,373.45 L270.8,373.45 L270.8,375.75 L268.65,375.75 L268.65,377.9 L266.35,377.9 L266.35,375.75 L264.2,375.75 L264.2,373.45 L266.35,373.45Z" fill="#e4e4e4" stroke="#333" stroke-width="1.1"/>
<path d="M280.35,371.3 L282.65,371.3 L282.65,373.45 L284.8,373.45 L284.8,375.75 L282.65,375.75 L282.65,377.9 L280.35,377.9 L280.35,375.75 L278.2,375.75 L278.2,373.45 L280.35,373.45Z" fill="#e4e4e4" stroke="#333" stroke-width="1.1"/>
<path d="M302.65,371.3 L304.95,371.3 L304.95,373.45 L307.1,373.45 L307.1,375.75 L304.95,375.75 L304.95,377.9 L302.65,377.9 L302.65,375.75 L300.5,375.75 L300.5,373.45 L302.65,373.45Z" fill="#e4e4e4" stroke="#333" stroke-width="1.1"/>
<rect x="348.75" y="374.3" width="4.1" height="2.2" rx="0.5" fill="#bbb" stroke="#333" stroke-width="1"/>
<rect x="384.95" y="374.3" width="4.1" height="2.2" rx="0.5" fill="#bbb" stroke="#333" stroke-width="1"/>
<rect x="435.45" y="374.3" width="4.1" height="2.2" rx="0.5" fill="#bbb" stroke="#333" stroke-width="1"/>
<rect x="466.75" y="374.3" width="4.1" height="2.2" rx="0.5" fill="#bbb" stroke="#333" stroke-width="1"/>
<path d="M97.6,394.6H103.4M100.5,391.7V397.5" stroke="#000" stroke-width="1.6" fill="none"/>
<path d="M181.6,394.6H187.4M184.5,391.7V397.5" stroke="#000" stroke-width="1.6" fill="none"/>
<path d="M217.3,394.6H223.1M220.2,391.7V397.5" stroke="#000" stroke-width="1.6" fill="none"/>
<path d="M264.4,394.6H270.2M267.3,391.7V397.5" stroke="#000" stroke-width="1.6" fill="none"/>
<path d="M300.9,394.6H306.7M303.8,391.7V397.5" stroke="#000" stroke-width="1.6" fill="none"/>
<path d="M312.3,394.6H318.1M315.2,391.7V397.5" stroke="#000" stroke-width="1.6" fill="none"/>
<path d="M324.3,394.6H330.1M327.2,391.7V397.5" stroke="#000" stroke-width="1.6" fill="none"/>
<path d="M336.4,394.6H342.2M339.3,391.7V397.5" stroke="#000" stroke-width="1.6" fill="none"/>
<path d="M348.4,394.6H354.2M351.3,391.7V397.5" stroke="#000" stroke-width="1.6" fill="none"/>
<path d="M384.1,394.6H389.9M387,391.7V397.5" stroke="#000" stroke-width="1.6" fill="none"/>
<path d="M465.9,394.6H471.7M468.8,391.7V397.5" stroke="#000" stroke-width="1.6" fill="none"/>
<text x="-0.2" y="450.3" font-size="25.6" font-weight="700">C</text>
<text x="50.8" y="463.0" font-size="14.3" textLength="123.8" lengthAdjust="spacingAndGlyphs">Group 3 - <tspan font-style="italic">Aotus</tspan> 560</text>
<line x1="41.2" y1="467.9" x2="41.2" y2="617.7" stroke="#000" stroke-width="1.35"/>
<line x1="41.2" y1="468.5" x2="482.3" y2="469.9" stroke="#000" stroke-width="1.35"/>
<line x1="482.3" y1="469.3" x2="482.3" y2="619.5" stroke="#000" stroke-width="1.35"/>
<line x1="41.2" y1="617.1" x2="482.3" y2="618.9" stroke="#000" stroke-width="1.35"/>
<line x1="41.2" y1="617.1" x2="41.2" y2="619.5" stroke="#000" stroke-width="1.1"/>
<line x1="53.12" y1="617.15" x2="53.12" y2="619.55" stroke="#000" stroke-width="1.1"/>
<line x1="65.04" y1="617.2" x2="65.04" y2="619.6" stroke="#000" stroke-width="1.1"/>
<line x1="76.96" y1="617.25" x2="76.96" y2="619.65" stroke="#000" stroke-width="1.1"/>
<line x1="88.89" y1="617.29" x2="88.89" y2="619.69" stroke="#000" stroke-width="1.1"/>
<line x1="100.81" y1="617.34" x2="100.81" y2="619.74" stroke="#000" stroke-width="1.1"/>
<line x1="112.73" y1="617.39" x2="112.73" y2="619.79" stroke="#000" stroke-width="1.1"/>
<line x1="124.65" y1="617.44" x2="124.65" y2="619.84" stroke="#000" stroke-width="1.1"/>
<line x1="136.57" y1="617.49" x2="136.57" y2="619.89" stroke="#000" stroke-width="1.1"/>
<line x1="148.49" y1="617.54" x2="148.49" y2="619.94" stroke="#000" stroke-width="1.1"/>
<line x1="160.42" y1="617.59" x2="160.42" y2="619.99" stroke="#000" stroke-width="1.1"/>
<line x1="172.34" y1="617.64" x2="172.34" y2="620.04" stroke="#000" stroke-width="1.1"/>
<line x1="184.26" y1="617.68" x2="184.26" y2="620.08" stroke="#000" stroke-width="1.1"/>
<line x1="196.18" y1="617.73" x2="196.18" y2="620.13" stroke="#000" stroke-width="1.1"/>
<line x1="208.1" y1="617.78" x2="208.1" y2="620.18" stroke="#000" stroke-width="1.1"/>
<line x1="220.02" y1="617.83" x2="220.02" y2="620.23" stroke="#000" stroke-width="1.1"/>
<line x1="231.95" y1="617.88" x2="231.95" y2="620.28" stroke="#000" stroke-width="1.1"/>
<line x1="243.87" y1="617.93" x2="243.87" y2="620.33" stroke="#000" stroke-width="1.1"/>
<line x1="255.79" y1="617.98" x2="255.79" y2="620.38" stroke="#000" stroke-width="1.1"/>
<line x1="267.71" y1="618.02" x2="267.71" y2="620.42" stroke="#000" stroke-width="1.1"/>
<line x1="279.63" y1="618.07" x2="279.63" y2="620.47" stroke="#000" stroke-width="1.1"/>
<line x1="291.55" y1="618.12" x2="291.55" y2="620.52" stroke="#000" stroke-width="1.1"/>
<line x1="303.48" y1="618.17" x2="303.48" y2="620.57" stroke="#000" stroke-width="1.1"/>
<line x1="315.4" y1="618.22" x2="315.4" y2="620.62" stroke="#000" stroke-width="1.1"/>
<line x1="327.32" y1="618.27" x2="327.32" y2="620.67" stroke="#000" stroke-width="1.1"/>
<line x1="339.24" y1="618.32" x2="339.24" y2="620.72" stroke="#000" stroke-width="1.1"/>
<line x1="351.16" y1="618.36" x2="351.16" y2="620.76" stroke="#000" stroke-width="1.1"/>
<line x1="363.08" y1="618.41" x2="363.08" y2="620.81" stroke="#000" stroke-width="1.1"/>
<line x1="375.01" y1="618.46" x2="375.01" y2="620.86" stroke="#000" stroke-width="1.1"/>
<line x1="386.93" y1="618.51" x2="386.93" y2="620.91" stroke="#000" stroke-width="1.1"/>
<line x1="398.85" y1="618.56" x2="398.85" y2="620.96" stroke="#000" stroke-width="1.1"/>
<line x1="410.77" y1="618.61" x2="410.77" y2="621.01" stroke="#000" stroke-width="1.1"/>
<line x1="422.69" y1="618.66" x2="422.69" y2="621.06" stroke="#000" stroke-width="1.1"/>
<line x1="434.61" y1="618.71" x2="434.61" y2="621.11" stroke="#000" stroke-width="1.1"/>
<line x1="446.54" y1="618.75" x2="446.54" y2="621.15" stroke="#000" stroke-width="1.1"/>
<line x1="458.46" y1="618.8" x2="458.46" y2="621.2" stroke="#000" stroke-width="1.1"/>
<line x1="470.38" y1="618.85" x2="470.38" y2="621.25" stroke="#000" stroke-width="1.1"/>
<line x1="482.3" y1="618.9" x2="482.3" y2="621.3" stroke="#000" stroke-width="1.1"/>
<line x1="38.6" y1="468.5" x2="41.2" y2="468.5" stroke="#000" stroke-width="1.2"/>
<line x1="39.8" y1="494.47" x2="41.2" y2="494.47" stroke="#000" stroke-width="0.9"/>
<line x1="39.8" y1="487.92" x2="41.2" y2="487.92" stroke="#000" stroke-width="0.9"/>
<line x1="39.8" y1="483.28" x2="41.2" y2="483.28" stroke="#000" stroke-width="0.9"/>
<line x1="39.8" y1="479.68" x2="41.2" y2="479.68" stroke="#000" stroke-width="0.9"/>
<line x1="39.8" y1="476.74" x2="41.2" y2="476.74" stroke="#000" stroke-width="0.9"/>
<line x1="39.8" y1="474.25" x2="41.2" y2="474.25" stroke="#000" stroke-width="0.9"/>
<line x1="39.8" y1="472.1" x2="41.2" y2="472.1" stroke="#000" stroke-width="0.9"/>
<line x1="39.8" y1="470.2" x2="41.2" y2="470.2" stroke="#000" stroke-width="0.9"/>
<line x1="38.6" y1="505.65" x2="41.2" y2="505.65" stroke="#000" stroke-width="1.2"/>
<line x1="39.8" y1="531.62" x2="41.2" y2="531.62" stroke="#000" stroke-width="0.9"/>
<line x1="39.8" y1="525.07" x2="41.2" y2="525.07" stroke="#000" stroke-width="0.9"/>
<line x1="39.8" y1="520.43" x2="41.2" y2="520.43" stroke="#000" stroke-width="0.9"/>
<line x1="39.8" y1="516.83" x2="41.2" y2="516.83" stroke="#000" stroke-width="0.9"/>
<line x1="39.8" y1="513.89" x2="41.2" y2="513.89" stroke="#000" stroke-width="0.9"/>
<line x1="39.8" y1="511.4" x2="41.2" y2="511.4" stroke="#000" stroke-width="0.9"/>
<line x1="39.8" y1="509.25" x2="41.2" y2="509.25" stroke="#000" stroke-width="0.9"/>
<line x1="39.8" y1="507.35" x2="41.2" y2="507.35" stroke="#000" stroke-width="0.9"/>
<line x1="38.6" y1="542.8" x2="41.2" y2="542.8" stroke="#000" stroke-width="1.2"/>
<line x1="39.8" y1="568.77" x2="41.2" y2="568.77" stroke="#000" stroke-width="0.9"/>
<line x1="39.8" y1="562.22" x2="41.2" y2="562.22" stroke="#000" stroke-width="0.9"/>
<line x1="39.8" y1="557.58" x2="41.2" y2="557.58" stroke="#000" stroke-width="0.9"/>
<line x1="39.8" y1="553.98" x2="41.2" y2="553.98" stroke="#000" stroke-width="0.9"/>
<line x1="39.8" y1="551.04" x2="41.2" y2="551.04" stroke="#000" stroke-width="0.9"/>
<line x1="39.8" y1="548.55" x2="41.2" y2="548.55" stroke="#000" stroke-width="0.9"/>
<line x1="39.8" y1="546.4" x2="41.2" y2="546.4" stroke="#000" stroke-width="0.9"/>
<line x1="39.8" y1="544.5" x2="41.2" y2="544.5" stroke="#000" stroke-width="0.9"/>
<line x1="38.6" y1="579.95" x2="41.2" y2="579.95" stroke="#000" stroke-width="1.2"/>
<line x1="39.8" y1="605.92" x2="41.2" y2="605.92" stroke="#000" stroke-width="0.9"/>
<line x1="39.8" y1="599.37" x2="41.2" y2="599.37" stroke="#000" stroke-width="0.9"/>
<line x1="39.8" y1="594.73" x2="41.2" y2="594.73" stroke="#000" stroke-width="0.9"/>
<line x1="39.8" y1="591.13" x2="41.2" y2="591.13" stroke="#000" stroke-width="0.9"/>
<line x1="39.8" y1="588.19" x2="41.2" y2="588.19" stroke="#000" stroke-width="0.9"/>
<line x1="39.8" y1="585.7" x2="41.2" y2="585.7" stroke="#000" stroke-width="0.9"/>
<line x1="39.8" y1="583.55" x2="41.2" y2="583.55" stroke="#000" stroke-width="0.9"/>
<line x1="39.8" y1="581.65" x2="41.2" y2="581.65" stroke="#000" stroke-width="0.9"/>
<line x1="38.6" y1="617.1" x2="41.2" y2="617.1" stroke="#000" stroke-width="1.2"/>
<line x1="482.3" y1="618.9" x2="484.7" y2="618.9" stroke="#000" stroke-width="1.2"/>
<line x1="482.3" y1="597.61" x2="484.7" y2="597.61" stroke="#000" stroke-width="1.2"/>
<line x1="482.3" y1="576.33" x2="484.7" y2="576.33" stroke="#000" stroke-width="1.2"/>
<line x1="482.3" y1="555.04" x2="484.7" y2="555.04" stroke="#000" stroke-width="1.2"/>
<line x1="482.3" y1="533.76" x2="484.7" y2="533.76" stroke="#000" stroke-width="1.2"/>
<line x1="482.3" y1="512.47" x2="484.7" y2="512.47" stroke="#000" stroke-width="1.2"/>
<line x1="482.3" y1="491.19" x2="484.7" y2="491.19" stroke="#000" stroke-width="1.2"/>
<line x1="482.3" y1="469.9" x2="484.7" y2="469.9" stroke="#000" stroke-width="1.2"/>
<text x="36.3" y="471.92" font-size="12" font-weight="700" text-anchor="end">100</text>
<text x="36.3" y="509.07" font-size="12" font-weight="700" text-anchor="end">10</text>
<text x="37" y="546.22" font-size="12" font-weight="700" text-anchor="end">1</text>
<text x="36.3" y="583.37" font-size="12" font-weight="700" text-anchor="end">0.1</text>
<text x="36.3" y="620.52" font-size="12" font-weight="700" text-anchor="end">0</text>
<text x="486.9" y="622.32" font-size="12" font-weight="700">0</text>
<text x="486.9" y="601.03" font-size="12" font-weight="700">10</text>
<text x="486.9" y="579.75" font-size="12" font-weight="700">20</text>
<text x="486.9" y="558.46" font-size="12" font-weight="700">30</text>
<text x="486.9" y="537.18" font-size="12" font-weight="700">40</text>
<text x="486.9" y="515.89" font-size="12" font-weight="700">50</text>
<text x="486.9" y="494.61" font-size="12" font-weight="700">60</text>
<text x="486.9" y="473.32" font-size="12" font-weight="700">70</text>
<text x="42.4" y="631.52" font-size="12" font-weight="700" text-anchor="middle">0</text>
<text x="124.65" y="631.86" font-size="12" font-weight="700" text-anchor="middle">7</text>
<text x="208.1" y="632.2" font-size="12" font-weight="700" text-anchor="middle">14</text>
<text x="291.55" y="632.54" font-size="12" font-weight="700" text-anchor="middle">21</text>
<text x="386.93" y="632.93" font-size="12" font-weight="700" text-anchor="middle">29</text>
<text x="470.38" y="633.27" font-size="12" font-weight="700" text-anchor="middle">36</text>
<text x="170" y="645.5" font-size="14" textLength="181.8" lengthAdjust="spacingAndGlyphs">Days after Challenge Infection</text>
<text transform="translate(12.3 568.2) rotate(-90)" font-size="14" textLength="90.8" lengthAdjust="spacingAndGlyphs">% parasitemia</text>
<line x1="8.4" y1="570.1" x2="8.4" y2="586.5" stroke="#000" stroke-width="2.2"/>
<circle cx="8.4" cy="577.9" r="3.05" fill="#fff" stroke="#000" stroke-width="1.35"/>
<text transform="translate(515.9 568.6) rotate(-90)" font-size="14" textLength="82.3" lengthAdjust="spacingAndGlyphs">% hematocrit</text>
<line x1="512.3" y1="574" x2="512.3" y2="589.7" stroke="#000" stroke-width="2.2"/>
<rect x="509.22" y="578.32" width="6.15" height="6.15" fill="#fff" stroke="#000" stroke-width="1.25"/>
<polyline points="41.8,523.8 89.5,484.6 137,485 184.5,485 220,490 267,493.8 303,515.5 350,556.3 361.3,562.5 385.9,548 397.4,540 470.1,501" fill="none" stroke="#000" stroke-width="2.4" stroke-linejoin="round"/>
<rect x="38.52" y="520.52" width="6.55" height="6.55" fill="#fff" stroke="#000" stroke-width="1.25"/>
<rect x="86.22" y="481.33" width="6.55" height="6.55" fill="#fff" stroke="#000" stroke-width="1.25"/>
<rect x="133.72" y="481.73" width="6.55" height="6.55" fill="#fff" stroke="#000" stroke-width="1.25"/>
<rect x="181.22" y="481.73" width="6.55" height="6.55" fill="#fff" stroke="#000" stroke-width="1.25"/>
<rect x="216.72" y="486.73" width="6.55" height="6.55" fill="#fff" stroke="#000" stroke-width="1.25"/>
<rect x="263.73" y="490.53" width="6.55" height="6.55" fill="#fff" stroke="#000" stroke-width="1.25"/>
<rect x="299.73" y="512.23" width="6.55" height="6.55" fill="#fff" stroke="#000" stroke-width="1.25"/>
<rect x="346.73" y="553.02" width="6.55" height="6.55" fill="#fff" stroke="#000" stroke-width="1.25"/>
<rect x="358.03" y="559.23" width="6.55" height="6.55" fill="#fff" stroke="#000" stroke-width="1.25"/>
<rect x="382.62" y="544.73" width="6.55" height="6.55" fill="#fff" stroke="#000" stroke-width="1.25"/>
<rect x="394.12" y="536.73" width="6.55" height="6.55" fill="#fff" stroke="#000" stroke-width="1.25"/>
<rect x="466.83" y="497.73" width="6.55" height="6.55" fill="#fff" stroke="#000" stroke-width="1.25"/>
<text x="125" y="479.8" font-size="11" font-weight="700" text-anchor="middle">4.8</text>
<text x="208.3" y="481.5" font-size="11" font-weight="700" text-anchor="middle">3.5</text>
<text x="291.3" y="500.5" font-size="11" font-weight="700" text-anchor="middle">0.4</text>
<text x="385.9" y="535.4" font-size="11" font-weight="700" text-anchor="middle">24.5</text>
<text x="465.2" y="490.1" font-size="11" font-weight="700" text-anchor="middle">10.8</text>
<line x1="137.5" y1="618.09" x2="386" y2="619.11" stroke="#000" stroke-width="2.4"/>
<path d="M243.8,617.4 C245.77,608.57 251.62,571.05 255.6,564.4 C259.58,557.75 263.82,568.62 267.7,577.5 C271.58,586.38 277.03,611 278.9,617.7" fill="none" stroke="#000" stroke-width="2.8" stroke-linejoin="round"/>
<path d="M278.9,617.7 C280.87,607.75 286.87,565.27 290.7,558 C294.53,550.73 297.95,564.15 301.9,574.1 C305.85,584.05 312.32,610.43 314.4,617.7" fill="none" stroke="#000" stroke-width="2.8" stroke-linejoin="round"/>
<circle cx="137.5" cy="617.49" r="3" fill="#fff" stroke="#000" stroke-width="1.05"/>
<circle cx="149.31" cy="617.54" r="3" fill="#fff" stroke="#000" stroke-width="1.05"/>
<circle cx="161.12" cy="617.59" r="3" fill="#fff" stroke="#000" stroke-width="1.05"/>
<circle cx="172.93" cy="617.64" r="3" fill="#fff" stroke="#000" stroke-width="1.05"/>
<circle cx="184.74" cy="617.69" r="3" fill="#fff" stroke="#000" stroke-width="1.05"/>
<circle cx="196.55" cy="617.73" r="3" fill="#fff" stroke="#000" stroke-width="1.05"/>
<circle cx="208.36" cy="617.78" r="3" fill="#fff" stroke="#000" stroke-width="1.05"/>
<circle cx="220.17" cy="617.83" r="3" fill="#fff" stroke="#000" stroke-width="1.05"/>
<circle cx="231.98" cy="617.88" r="3" fill="#fff" stroke="#000" stroke-width="1.05"/>
<circle cx="243.79" cy="617.93" r="3" fill="#fff" stroke="#000" stroke-width="1.05"/>
<circle cx="243.8" cy="617.4" r="3" fill="#fff" stroke="#000" stroke-width="1.05"/>
<circle cx="255.6" cy="564.4" r="3" fill="#fff" stroke="#000" stroke-width="1.05"/>
<circle cx="267.7" cy="577.5" r="3" fill="#fff" stroke="#000" stroke-width="1.05"/>
<circle cx="278.9" cy="617.7" r="3" fill="#fff" stroke="#000" stroke-width="1.05"/>
<circle cx="290.7" cy="558" r="3" fill="#fff" stroke="#000" stroke-width="1.05"/>
<circle cx="301.9" cy="574.1" r="3" fill="#fff" stroke="#000" stroke-width="1.05"/>
<circle cx="314.4" cy="617.7" r="3" fill="#fff" stroke="#000" stroke-width="1.05"/>
<circle cx="314.65" cy="618.22" r="3" fill="#fff" stroke="#000" stroke-width="1.05"/>
<circle cx="326.46" cy="618.26" r="3" fill="#fff" stroke="#000" stroke-width="1.05"/>
<circle cx="338.27" cy="618.31" r="3" fill="#fff" stroke="#000" stroke-width="1.05"/>
<circle cx="350.08" cy="618.36" r="3" fill="#fff" stroke="#000" stroke-width="1.05"/>
<circle cx="361.89" cy="618.41" r="3" fill="#fff" stroke="#000" stroke-width="1.05"/>
<circle cx="373.7" cy="618.46" r="3" fill="#fff" stroke="#000" stroke-width="1.05"/>
<circle cx="385.51" cy="618.51" r="3" fill="#fff" stroke="#000" stroke-width="1.05"/>
<path d="M134.1,608H139.9M137,605.1V610.9" stroke="#000" stroke-width="1.6" fill="none"/>
<path d="M180.9,608H186.7M183.8,605.1V610.9" stroke="#000" stroke-width="1.6" fill="none"/>
<path d="M216.4,608H222.2M219.3,605.1V610.9" stroke="#000" stroke-width="1.6" fill="none"/>
<path d="M263.4,608H269.2M266.3,605.1V610.9" stroke="#000" stroke-width="1.6" fill="none"/>
<path d="M299.5,608H305.3M302.4,605.1V610.9" stroke="#000" stroke-width="1.6" fill="none"/>
<path d="M347.1,608H352.9M350,605.1V610.9" stroke="#000" stroke-width="1.6" fill="none"/>
<path d="M357.9,608H363.7M360.8,605.1V610.9" stroke="#000" stroke-width="1.6" fill="none"/>
<path d="M98.8,607.6H102.2" stroke="#000" stroke-width="1.4"/>
<path d="M383.3,607.6H386.7" stroke="#000" stroke-width="1.4"/>
<path d="M395.8,607.6H399.2" stroke="#000" stroke-width="1.4"/>
<path d="M420.8,607.6H424.2" stroke="#000" stroke-width="1.4"/>
<text x="-0.2" y="662.8" font-size="25.6" font-weight="700">D</text>
<text x="50.8" y="674.9" font-size="14.3" textLength="123.8" lengthAdjust="spacingAndGlyphs">Group 4 - <tspan font-style="italic">Aotus</tspan> 604</text>
<line x1="40.9" y1="680.6" x2="40.9" y2="830.3" stroke="#000" stroke-width="1.35"/>
<line x1="40.9" y1="681.2" x2="481.9" y2="682.5" stroke="#000" stroke-width="1.35"/>
<line x1="481.9" y1="681.9" x2="481.9" y2="831.9" stroke="#000" stroke-width="1.35"/>
<line x1="40.9" y1="829.7" x2="481.9" y2="831.3" stroke="#000" stroke-width="1.35"/>
<line x1="40.9" y1="829.7" x2="40.9" y2="832.1" stroke="#000" stroke-width="1.1"/>
<line x1="52.82" y1="829.74" x2="52.82" y2="832.14" stroke="#000" stroke-width="1.1"/>
<line x1="64.74" y1="829.79" x2="64.74" y2="832.19" stroke="#000" stroke-width="1.1"/>
<line x1="76.66" y1="829.83" x2="76.66" y2="832.23" stroke="#000" stroke-width="1.1"/>
<line x1="88.58" y1="829.87" x2="88.58" y2="832.27" stroke="#000" stroke-width="1.1"/>
<line x1="100.49" y1="829.92" x2="100.49" y2="832.32" stroke="#000" stroke-width="1.1"/>
<line x1="112.41" y1="829.96" x2="112.41" y2="832.36" stroke="#000" stroke-width="1.1"/>
<line x1="124.33" y1="830" x2="124.33" y2="832.4" stroke="#000" stroke-width="1.1"/>
<line x1="136.25" y1="830.05" x2="136.25" y2="832.45" stroke="#000" stroke-width="1.1"/>
<line x1="148.17" y1="830.09" x2="148.17" y2="832.49" stroke="#000" stroke-width="1.1"/>
<line x1="160.09" y1="830.13" x2="160.09" y2="832.53" stroke="#000" stroke-width="1.1"/>
<line x1="172.01" y1="830.18" x2="172.01" y2="832.58" stroke="#000" stroke-width="1.1"/>
<line x1="183.93" y1="830.22" x2="183.93" y2="832.62" stroke="#000" stroke-width="1.1"/>
<line x1="195.85" y1="830.26" x2="195.85" y2="832.66" stroke="#000" stroke-width="1.1"/>
<line x1="207.76" y1="830.31" x2="207.76" y2="832.71" stroke="#000" stroke-width="1.1"/>
<line x1="219.68" y1="830.35" x2="219.68" y2="832.75" stroke="#000" stroke-width="1.1"/>
<line x1="231.6" y1="830.39" x2="231.6" y2="832.79" stroke="#000" stroke-width="1.1"/>
<line x1="243.52" y1="830.44" x2="243.52" y2="832.84" stroke="#000" stroke-width="1.1"/>
<line x1="255.44" y1="830.48" x2="255.44" y2="832.88" stroke="#000" stroke-width="1.1"/>
<line x1="267.36" y1="830.52" x2="267.36" y2="832.92" stroke="#000" stroke-width="1.1"/>
<line x1="279.28" y1="830.56" x2="279.28" y2="832.96" stroke="#000" stroke-width="1.1"/>
<line x1="291.2" y1="830.61" x2="291.2" y2="833.01" stroke="#000" stroke-width="1.1"/>
<line x1="303.12" y1="830.65" x2="303.12" y2="833.05" stroke="#000" stroke-width="1.1"/>
<line x1="315.04" y1="830.69" x2="315.04" y2="833.09" stroke="#000" stroke-width="1.1"/>
<line x1="326.95" y1="830.74" x2="326.95" y2="833.14" stroke="#000" stroke-width="1.1"/>
<line x1="338.87" y1="830.78" x2="338.87" y2="833.18" stroke="#000" stroke-width="1.1"/>
<line x1="350.79" y1="830.82" x2="350.79" y2="833.22" stroke="#000" stroke-width="1.1"/>
<line x1="362.71" y1="830.87" x2="362.71" y2="833.27" stroke="#000" stroke-width="1.1"/>
<line x1="374.63" y1="830.91" x2="374.63" y2="833.31" stroke="#000" stroke-width="1.1"/>
<line x1="386.55" y1="830.95" x2="386.55" y2="833.35" stroke="#000" stroke-width="1.1"/>
<line x1="398.47" y1="831" x2="398.47" y2="833.4" stroke="#000" stroke-width="1.1"/>
<line x1="410.39" y1="831.04" x2="410.39" y2="833.44" stroke="#000" stroke-width="1.1"/>
<line x1="422.31" y1="831.08" x2="422.31" y2="833.48" stroke="#000" stroke-width="1.1"/>
<line x1="434.22" y1="831.13" x2="434.22" y2="833.53" stroke="#000" stroke-width="1.1"/>
<line x1="446.14" y1="831.17" x2="446.14" y2="833.57" stroke="#000" stroke-width="1.1"/>
<line x1="458.06" y1="831.21" x2="458.06" y2="833.61" stroke="#000" stroke-width="1.1"/>
<line x1="469.98" y1="831.26" x2="469.98" y2="833.66" stroke="#000" stroke-width="1.1"/>
<line x1="481.9" y1="831.3" x2="481.9" y2="833.7" stroke="#000" stroke-width="1.1"/>
<line x1="38.3" y1="681.2" x2="40.9" y2="681.2" stroke="#000" stroke-width="1.2"/>
<line x1="39.5" y1="707.15" x2="40.9" y2="707.15" stroke="#000" stroke-width="0.9"/>
<line x1="39.5" y1="700.61" x2="40.9" y2="700.61" stroke="#000" stroke-width="0.9"/>
<line x1="39.5" y1="695.97" x2="40.9" y2="695.97" stroke="#000" stroke-width="0.9"/>
<line x1="39.5" y1="692.38" x2="40.9" y2="692.38" stroke="#000" stroke-width="0.9"/>
<line x1="39.5" y1="689.44" x2="40.9" y2="689.44" stroke="#000" stroke-width="0.9"/>
<line x1="39.5" y1="686.95" x2="40.9" y2="686.95" stroke="#000" stroke-width="0.9"/>
<line x1="39.5" y1="684.8" x2="40.9" y2="684.8" stroke="#000" stroke-width="0.9"/>
<line x1="39.5" y1="682.9" x2="40.9" y2="682.9" stroke="#000" stroke-width="0.9"/>
<line x1="38.3" y1="718.33" x2="40.9" y2="718.33" stroke="#000" stroke-width="1.2"/>
<line x1="39.5" y1="744.27" x2="40.9" y2="744.27" stroke="#000" stroke-width="0.9"/>
<line x1="39.5" y1="737.74" x2="40.9" y2="737.74" stroke="#000" stroke-width="0.9"/>
<line x1="39.5" y1="733.1" x2="40.9" y2="733.1" stroke="#000" stroke-width="0.9"/>
<line x1="39.5" y1="729.5" x2="40.9" y2="729.5" stroke="#000" stroke-width="0.9"/>
<line x1="39.5" y1="726.56" x2="40.9" y2="726.56" stroke="#000" stroke-width="0.9"/>
<line x1="39.5" y1="724.08" x2="40.9" y2="724.08" stroke="#000" stroke-width="0.9"/>
<line x1="39.5" y1="721.92" x2="40.9" y2="721.92" stroke="#000" stroke-width="0.9"/>
<line x1="39.5" y1="720.02" x2="40.9" y2="720.02" stroke="#000" stroke-width="0.9"/>
<line x1="38.3" y1="755.45" x2="40.9" y2="755.45" stroke="#000" stroke-width="1.2"/>
<line x1="39.5" y1="781.4" x2="40.9" y2="781.4" stroke="#000" stroke-width="0.9"/>
<line x1="39.5" y1="774.86" x2="40.9" y2="774.86" stroke="#000" stroke-width="0.9"/>
<line x1="39.5" y1="770.22" x2="40.9" y2="770.22" stroke="#000" stroke-width="0.9"/>
<line x1="39.5" y1="766.63" x2="40.9" y2="766.63" stroke="#000" stroke-width="0.9"/>
<line x1="39.5" y1="763.69" x2="40.9" y2="763.69" stroke="#000" stroke-width="0.9"/>
<line x1="39.5" y1="761.2" x2="40.9" y2="761.2" stroke="#000" stroke-width="0.9"/>
<line x1="39.5" y1="759.05" x2="40.9" y2="759.05" stroke="#000" stroke-width="0.9"/>
<line x1="39.5" y1="757.15" x2="40.9" y2="757.15" stroke="#000" stroke-width="0.9"/>
<line x1="38.3" y1="792.58" x2="40.9" y2="792.58" stroke="#000" stroke-width="1.2"/>
<line x1="39.5" y1="818.52" x2="40.9" y2="818.52" stroke="#000" stroke-width="0.9"/>
<line x1="39.5" y1="811.99" x2="40.9" y2="811.99" stroke="#000" stroke-width="0.9"/>
<line x1="39.5" y1="807.35" x2="40.9" y2="807.35" stroke="#000" stroke-width="0.9"/>
<line x1="39.5" y1="803.75" x2="40.9" y2="803.75" stroke="#000" stroke-width="0.9"/>
<line x1="39.5" y1="800.81" x2="40.9" y2="800.81" stroke="#000" stroke-width="0.9"/>
<line x1="39.5" y1="798.33" x2="40.9" y2="798.33" stroke="#000" stroke-width="0.9"/>
<line x1="39.5" y1="796.17" x2="40.9" y2="796.17" stroke="#000" stroke-width="0.9"/>
<line x1="39.5" y1="794.27" x2="40.9" y2="794.27" stroke="#000" stroke-width="0.9"/>
<line x1="38.3" y1="829.7" x2="40.9" y2="829.7" stroke="#000" stroke-width="1.2"/>
<line x1="481.9" y1="831.3" x2="484.3" y2="831.3" stroke="#000" stroke-width="1.2"/>
<line x1="481.9" y1="810.04" x2="484.3" y2="810.04" stroke="#000" stroke-width="1.2"/>
<line x1="481.9" y1="788.79" x2="484.3" y2="788.79" stroke="#000" stroke-width="1.2"/>
<line x1="481.9" y1="767.53" x2="484.3" y2="767.53" stroke="#000" stroke-width="1.2"/>
<line x1="481.9" y1="746.27" x2="484.3" y2="746.27" stroke="#000" stroke-width="1.2"/>
<line x1="481.9" y1="725.01" x2="484.3" y2="725.01" stroke="#000" stroke-width="1.2"/>
<line x1="481.9" y1="703.76" x2="484.3" y2="703.76" stroke="#000" stroke-width="1.2"/>
<line x1="481.9" y1="682.5" x2="484.3" y2="682.5" stroke="#000" stroke-width="1.2"/>
<text x="35.7" y="684.62" font-size="12" font-weight="700" text-anchor="end">100</text>
<text x="35.7" y="721.75" font-size="12" font-weight="700" text-anchor="end">10</text>
<text x="36.4" y="758.87" font-size="12" font-weight="700" text-anchor="end">1</text>
<text x="35.7" y="796" font-size="12" font-weight="700" text-anchor="end">0.1</text>
<text x="35.7" y="833.12" font-size="12" font-weight="700" text-anchor="end">0</text>
<text x="486.5" y="834.72" font-size="12" font-weight="700">0</text>
<text x="486.5" y="813.46" font-size="12" font-weight="700">10</text>
<text x="486.5" y="792.21" font-size="12" font-weight="700">20</text>
<text x="486.5" y="770.95" font-size="12" font-weight="700">30</text>
<text x="486.5" y="749.69" font-size="12" font-weight="700">40</text>
<text x="486.5" y="728.43" font-size="12" font-weight="700">50</text>
<text x="486.5" y="707.18" font-size="12" font-weight="700">60</text>
<text x="486.5" y="685.92" font-size="12" font-weight="700">70</text>
<text x="42.1" y="843.92" font-size="12" font-weight="700" text-anchor="middle">0</text>
<text x="124.33" y="844.22" font-size="12" font-weight="700" text-anchor="middle">7</text>
<text x="207.76" y="844.53" font-size="12" font-weight="700" text-anchor="middle">14</text>
<text x="291.2" y="844.83" font-size="12" font-weight="700" text-anchor="middle">21</text>
<text x="386.55" y="845.17" font-size="12" font-weight="700" text-anchor="middle">29</text>
<text x="469.98" y="845.48" font-size="12" font-weight="700" text-anchor="middle">36</text>
<text x="169.8" y="858" font-size="14" textLength="182.2" lengthAdjust="spacingAndGlyphs">Days after Challenge Infection</text>
<text transform="translate(12 780.8) rotate(-90)" font-size="14" textLength="90.6" lengthAdjust="spacingAndGlyphs">% parasitemia</text>
<line x1="7.9" y1="783" x2="7.9" y2="798.9" stroke="#000" stroke-width="2.2"/>
<circle cx="7.9" cy="790.6" r="3.05" fill="#fff" stroke="#000" stroke-width="1.35"/>
<text transform="translate(515.6 782.9) rotate(-90)" font-size="14" textLength="83.6" lengthAdjust="spacingAndGlyphs">% hematocrit</text>
<line x1="512" y1="787.4" x2="512" y2="804" stroke="#000" stroke-width="2.2"/>
<rect x="508.93" y="791.82" width="6.15" height="6.15" fill="#fff" stroke="#000" stroke-width="1.25"/>
<path d="M43,737 C59.25,724.38 86.62,718.88 102.5,714.3 C118.38,709.72 124.47,710.3 138.3,709.5 C152.13,708.7 171.47,703.58 185.5,709.5 C199.53,715.42 208.77,730.32 222.5,745 C236.23,759.68 258.25,791.87 267.9,797.6 C277.55,803.33 274.33,781.5 280.4,779.4 C286.47,777.3 292.48,791.57 304.3,785 C316.12,778.43 337.35,748.83 351.3,740 C365.25,731.17 368.3,735.42 388,732 C407.7,728.58 455.92,721.58 469.5,719.5" fill="none" stroke="#000" stroke-width="2.4" stroke-linejoin="round"/>
<rect x="39.73" y="733.73" width="6.55" height="6.55" fill="#fff" stroke="#000" stroke-width="1.25"/>
<rect x="99.22" y="711.02" width="6.55" height="6.55" fill="#fff" stroke="#000" stroke-width="1.25"/>
<rect x="135.03" y="706.23" width="6.55" height="6.55" fill="#fff" stroke="#000" stroke-width="1.25"/>
<rect x="182.22" y="706.23" width="6.55" height="6.55" fill="#fff" stroke="#000" stroke-width="1.25"/>
<rect x="219.22" y="741.73" width="6.55" height="6.55" fill="#fff" stroke="#000" stroke-width="1.25"/>
<rect x="264.62" y="794.33" width="6.55" height="6.55" fill="#fff" stroke="#000" stroke-width="1.25"/>
<rect x="277.12" y="776.12" width="6.55" height="6.55" fill="#fff" stroke="#000" stroke-width="1.25"/>
<rect x="301.03" y="781.73" width="6.55" height="6.55" fill="#fff" stroke="#000" stroke-width="1.25"/>
<rect x="348.03" y="736.73" width="6.55" height="6.55" fill="#fff" stroke="#000" stroke-width="1.25"/>
<rect x="384.73" y="728.73" width="6.55" height="6.55" fill="#fff" stroke="#000" stroke-width="1.25"/>
<rect x="466.23" y="716.23" width="6.55" height="6.55" fill="#fff" stroke="#000" stroke-width="1.25"/>
<text x="123.8" y="700.7" font-size="11" font-weight="700" text-anchor="middle">3.9</text>
<text x="209.3" y="718" font-size="11" font-weight="700" text-anchor="middle">2.5</text>
<text x="290.8" y="773.1" font-size="11" font-weight="700" text-anchor="middle">9.4</text>
<text x="386.3" y="723.5" font-size="11" font-weight="700" text-anchor="middle">7.4</text>
<text x="470" y="712.3" font-size="11" font-weight="700" text-anchor="middle">4.7</text>
<line x1="266.4" y1="685.8" x2="266.4" y2="696.5" stroke="#666" stroke-width="0.9"/>
<path d="M263.0,695.5 L266.4,697.6 L270.0,695.5 L266.4,703.3 Z" fill="#fff" stroke="#000" stroke-width="1.15" stroke-linejoin="round"/>
<line x1="135.9" y1="831.21" x2="266" y2="831.49" stroke="#000" stroke-width="2.4"/>
<path d="M206.7,830.8 C208.78,823.87 214.93,797.08 219.2,789.2 C223.47,781.32 228.45,776.57 232.3,783.5 C236.15,790.43 240.63,822.92 242.3,830.8" fill="none" stroke="#000" stroke-width="2.8" stroke-linejoin="round"/>
<circle cx="135.9" cy="830.61" r="3" fill="#fff" stroke="#000" stroke-width="1.05"/>
<circle cx="147.75" cy="830.63" r="3" fill="#fff" stroke="#000" stroke-width="1.05"/>
<circle cx="159.6" cy="830.66" r="3" fill="#fff" stroke="#000" stroke-width="1.05"/>
<circle cx="171.45" cy="830.68" r="3" fill="#fff" stroke="#000" stroke-width="1.05"/>
<circle cx="183.3" cy="830.71" r="3" fill="#fff" stroke="#000" stroke-width="1.05"/>
<circle cx="195.15" cy="830.74" r="3" fill="#fff" stroke="#000" stroke-width="1.05"/>
<circle cx="207" cy="830.76" r="3" fill="#fff" stroke="#000" stroke-width="1.05"/>
<circle cx="219.2" cy="789.2" r="3" fill="#fff" stroke="#000" stroke-width="1.05"/>
<circle cx="232.3" cy="783.5" r="3" fill="#fff" stroke="#000" stroke-width="1.05"/>
<circle cx="242.4" cy="830.84" r="3" fill="#fff" stroke="#000" stroke-width="1.05"/>
<circle cx="255.2" cy="830.87" r="3" fill="#fff" stroke="#000" stroke-width="1.05"/>
<circle cx="266.2" cy="830.89" r="3" fill="#fff" stroke="#000" stroke-width="1.05"/>
<path d="M97.1,820.4H102.9M100,817.5V823.3" stroke="#000" stroke-width="1.6" fill="none"/>
<path d="M133.4,820.4H139.2M136.3,817.5V823.3" stroke="#000" stroke-width="1.6" fill="none"/>
<path d="M180.9,820.4H186.7M183.8,817.5V823.3" stroke="#000" stroke-width="1.6" fill="none"/>
<path d="M216.4,820.4H222.2M219.3,817.5V823.3" stroke="#000" stroke-width="1.6" fill="none"/>
<path d="M263.4,820.4H269.2M266.3,817.5V823.3" stroke="#000" stroke-width="1.6" fill="none"/>
<path d="M277.1,820.4H282.9M280,817.5V823.3" stroke="#000" stroke-width="1.6" fill="none"/>
<path d="M300.8,820.6H304.2" stroke="#000" stroke-width="1.4"/>
<path d="M349.6,820.6H353" stroke="#000" stroke-width="1.4"/>
<path d="M382.1,820.6H385.5" stroke="#000" stroke-width="1.4"/>
<path d="M467.8,820.6H471.2" stroke="#000" stroke-width="1.4"/>
</svg>
</body></html>
